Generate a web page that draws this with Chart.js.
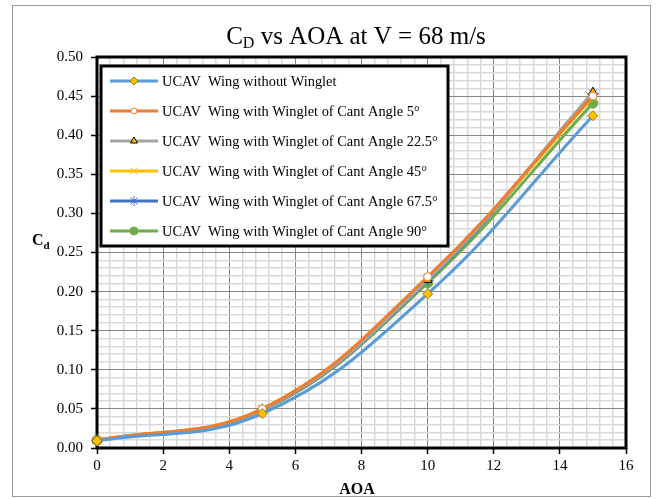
<!DOCTYPE html>
<html>
<head>
<meta charset="utf-8">
<script src="https://cdn.jsdelivr.net/npm/chart.js@4.4.1/dist/chart.umd.min.js"></script>
<style>
  html, body { margin: 0; padding: 0; background: #fff; }
  #wrap { width: 661px; height: 499px; position: relative; }
</style>
</head>
<body>
<div id="wrap"><canvas id="chart" width="661" height="499"></canvas></div>
<script>
// data
var aoa = [0, 5, 10, 15];
var cdNoWinglet = [0.009, 0.044, 0.197, 0.425];
var cdCant5     = [0.010, 0.050, 0.219, 0.450];
var cdCant225   = [0.010, 0.049, 0.215, 0.455];
var cdCant45    = [0.010, 0.050, 0.217, 0.449];
var cdCant675   = [0.010, 0.049, 0.214, 0.453];
var cdCant90    = [0.010, 0.048, 0.211, 0.441];

var seriesNames = [
  'UCAV  Wing without Winglet',
  'UCAV  Wing with Winglet of Cant Angle 5°',
  'UCAV  Wing with Winglet of Cant Angle 22.5°',
  'UCAV  Wing with Winglet of Cant Angle 45°',
  'UCAV  Wing with Winglet of Cant Angle 67.5°',
  'UCAV  Wing with Winglet of Cant Angle 90°'
];

var xTicks = [0, 2, 4, 6, 8, 10, 12, 14, 16];
var yTicks = [0, 0.05, 0.10, 0.15, 0.20, 0.25, 0.30, 0.35, 0.40, 0.45, 0.50];

function pts(ys) {
  return aoa.map(function (a, i) { return { x: a, y: ys[i] }; });
}

// minor grid: 5 steps between each pair of major ticks
function withMinor(major) {
  var out = [];
  for (var i = 0; i < major.length - 1; i++) {
    var step = (major[i + 1] - major[i]) / 5;
    for (var k = 0; k < 5; k++) out.push(+(major[i] + k * step).toFixed(6));
  }
  out.push(major[major.length - 1]);
  return out;
}
function isMajor(v, major) {
  return major.some(function (m) { return Math.abs(m - v) < 1e-6; });
}

var serif = "'Liberation Serif', 'Times New Roman', serif";

var styles = [
  { c: '#5B9BD5', ps: 'rectRot',  r: 5, bg: '#FFC000', bc: '#9c7a10' },
  { c: '#ED7D31', ps: 'circle',   r: 4, bg: '#ffffff', bc: '#ED7D31' },
  { c: '#A5A5A5', ps: 'triangle', r: 5, bg: '#FFC000', bc: '#000000' },
  { c: '#FFC000', ps: 'crossRot', r: 6, bg: '#FFC000', bc: '#FFC000' },
  { c: '#4472C4', ps: 'star',     r: 6, bg: '#4472C4', bc: '#4472C4' },
  { c: '#70AD47', ps: 'circle',   r: 5, bg: '#70AD47', bc: '#70AD47' }
];
var allSeries = [cdNoWinglet, cdCant5, cdCant225, cdCant45, cdCant675, cdCant90];

var datasets = allSeries.map(function (s, i) {
  var st = styles[i];
  return {
    label: seriesNames[i],
    data: pts(s),
    showLine: true,
    borderColor: st.c,
    borderWidth: 3,
    tension: 0.4,
    pointStyle: st.ps,
    pointRadius: st.r,
    pointBackgroundColor: st.bg,
    pointBorderColor: st.bc,
    pointBorderWidth: 1,
    clip: false
  };
});

var decor = {
  id: 'decor',
  beforeDraw: function (chart) {
    var ctx = chart.ctx;
    ctx.save();
    ctx.fillStyle = '#fff';
    ctx.fillRect(0, 0, chart.width, chart.height);
    ctx.strokeStyle = '#9a9a9a';
    ctx.lineWidth = 1;
    ctx.strokeRect(12.5, 5.5, 638, 491);
    ctx.restore();
  },
  beforeDatasetsDraw: function (chart) {
    var a = chart.chartArea, ctx = chart.ctx;
    ctx.save();
    ctx.strokeStyle = '#000';
    ctx.lineWidth = 3;
    ctx.strokeRect(a.left, a.top, a.right - a.left, a.bottom - a.top);
    ctx.restore();
  },
  afterDatasetsDraw: function (chart) {
    var ctx = chart.ctx;
    ctx.save();
    // title with subscript
    ctx.fillStyle = '#000';
    ctx.textBaseline = 'alphabetic';
    var big = '25px ' + serif, small = '16px ' + serif;
    ctx.font = big; var w1 = ctx.measureText('C').width;
    ctx.font = small; var w2 = ctx.measureText('D').width;
    ctx.font = big; var w3 = ctx.measureText(' vs AOA at V = 68 m/s').width;
    var x0 = 356 - (w1 + w2 + w3) / 2, yb = 44;
    ctx.font = big; ctx.fillText('C', x0, yb);
    ctx.font = small; ctx.fillText('D', x0 + w1, yb + 4);
    ctx.font = big; ctx.fillText(' vs AOA at V = 68 m/s', x0 + w1 + w2, yb);

    // y axis title
    ctx.font = 'bold 16px ' + serif;
    ctx.fillText('C', 32, 245);
    var cw = ctx.measureText('C').width;
    ctx.font = 'bold 11px ' + serif;
    ctx.fillText('d', 32 + cw, 249);

    // x axis title
    ctx.font = 'bold 16px ' + serif;
    ctx.textAlign = 'center';
    ctx.fillText('AOA', 357, 494);
    ctx.textAlign = 'left';

    // legend box
    var lx = 101, ly = 66, lw = 347, lh = 180;
    ctx.fillStyle = '#fff';
    ctx.fillRect(lx, ly, lw, lh);
    ctx.strokeStyle = '#000';
    ctx.lineWidth = 3;
    ctx.strokeRect(lx, ly, lw, lh);
    ctx.font = '14.4px ' + serif;
    ctx.textBaseline = 'middle';
    chart.data.datasets.forEach(function (ds, i) {
      var y = 81 + i * 30;
      ctx.strokeStyle = ds.borderColor;
      ctx.lineWidth = 3;
      ctx.beginPath();
      ctx.moveTo(110, y);
      ctx.lineTo(158, y);
      ctx.stroke();
      ctx.fillStyle = ds.pointBackgroundColor;
      ctx.strokeStyle = ds.pointBorderColor;
      ctx.lineWidth = 1;
      Chart.helpers.drawPoint(ctx, {
        pointStyle: ds.pointStyle,
        radius: ds.pointRadius - 1,
        rotation: 0,
        borderWidth: 1
      }, 134, y);
      ctx.fillStyle = '#000';
      ctx.fillText(ds.label, 162, y + 1);
    });
    ctx.restore();
  }
};

var xAll = withMinor(xTicks);
var yAll = withMinor(yTicks);

new Chart(document.getElementById('chart'), {
  type: 'scatter',
  data: { datasets: datasets },
  options: {
    responsive: false,
    animation: false,
    layout: { padding: { left: 0, right: 35, top: 57, bottom: 0 } },
    plugins: { legend: { display: false }, title: { display: false }, tooltip: { enabled: false } },
    scales: {
      x: {
        type: 'linear',
        min: 0, max: 16,
        afterBuildTicks: function (s) { s.ticks = xAll.map(function (v) { return { value: v }; }); },
        afterFit: function (s) { s.height = 51; },
        border: { display: false },
        grid: {
          color: function (c) { return isMajor(c.tick.value, xTicks) ? '#878787' : '#d9d9d9'; },
          lineWidth: function (c) { return isMajor(c.tick.value, xTicks) ? 1 : 1.5; },
          tickColor: function (c) { return isMajor(c.tick.value, xTicks) ? '#000' : 'rgba(0,0,0,0)'; },
          tickLength: 6,
          tickWidth: 1.5
        },
        ticks: {
          autoSkip: false,
          maxRotation: 0,
          padding: 3,
          color: '#000',
          font: { family: serif, size: 15 },
          callback: function (v) { return isMajor(v, xTicks) ? String(Math.round(v)) : ''; }
        }
      },
      y: {
        type: 'linear',
        min: 0, max: 0.5,
        afterBuildTicks: function (s) { s.ticks = yAll.map(function (v) { return { value: v }; }); },
        afterFit: function (s) { s.width = 97; },
        border: { display: false },
        grid: {
          color: function (c) { return isMajor(c.tick.value, yTicks) ? '#878787' : '#d9d9d9'; },
          lineWidth: function (c) { return isMajor(c.tick.value, yTicks) ? 1 : 1.5; },
          tickColor: function (c) { return isMajor(c.tick.value, yTicks) ? '#000' : 'rgba(0,0,0,0)'; },
          tickLength: 6,
          tickWidth: 1.5
        },
        ticks: {
          autoSkip: false,
          padding: 8,
          color: '#000',
          font: { family: serif, size: 15 },
          callback: function (v) { return isMajor(v, yTicks) ? v.toFixed(2) : ''; }
        }
      }
    }
  },
  plugins: [decor]
});
</script>
</body>
</html>
